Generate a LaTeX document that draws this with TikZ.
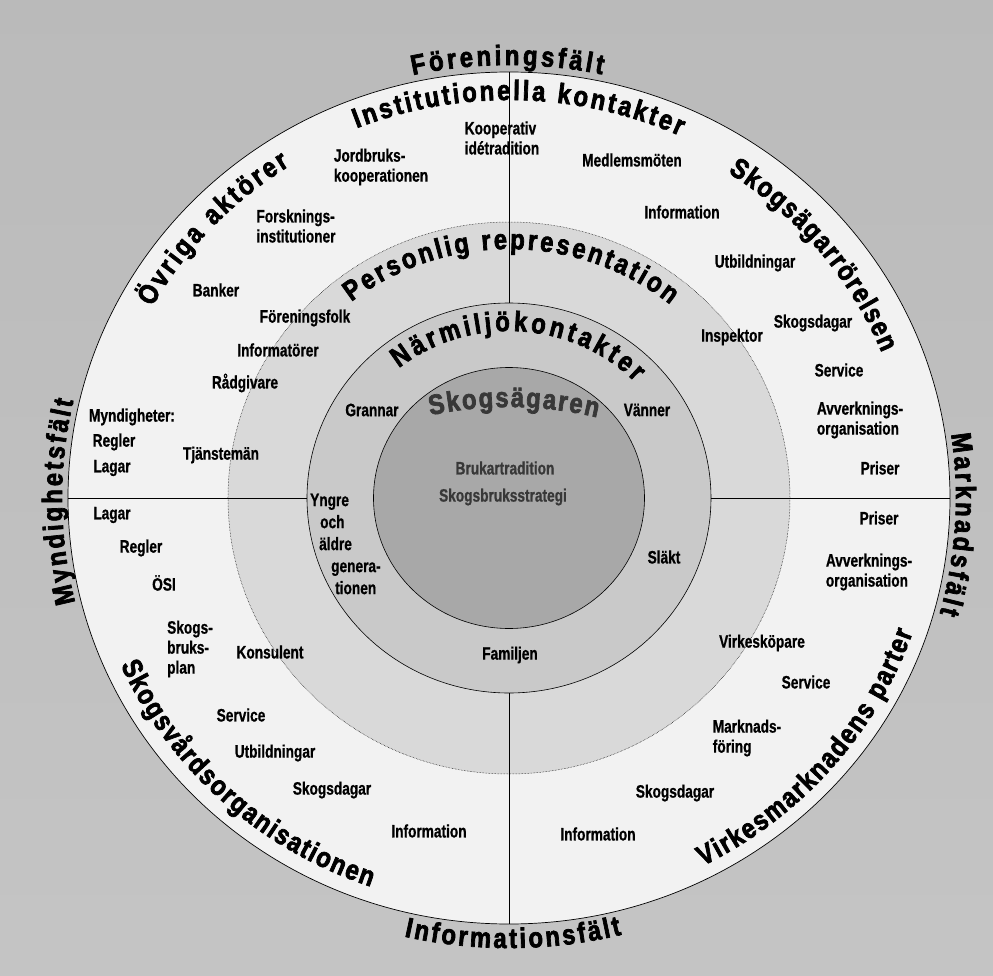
\documentclass[tikz,border=0pt]{standalone}
\usepackage{fontspec}
\usepackage{tikz}
\usetikzlibrary{decorations.text}
\usepackage{xcolor}

\newfontfamily\lblface[FakeStretch=0.76,FakeBold=0.8]{Liberation Sans}
\newfontfamily\bigface[FakeStretch=0.85,FakeBold=2.5]{Liberation Sans}
\newcommand\lblfont{\lblface\bfseries\fontsize{18}{20}\selectfont}
\newcommand\bigfont{\bigface\bfseries\fontsize{28}{32}\selectfont}

\definecolor{bgtop}{gray}{0.73}
\definecolor{bgmid}{gray}{0.87}
\definecolor{bgbot}{gray}{0.77}
\definecolor{ringout}{gray}{0.95}
\definecolor{ringpers}{gray}{0.85}
\definecolor{ringnear}{gray}{0.79}
\definecolor{ringcore}{gray}{0.66}
\definecolor{coreink}{gray}{0.22}

\begin{document}
\begin{tikzpicture}[x=1pt,y=1pt,
  lbl/.style={font=\lblfont, inner sep=0pt, align=left},
  arclabel/.style={decorate, decoration={text along path, text align={fit to path}, text={|\bigfont|#1}}}]

  % background
  \useasboundingbox (-509,-477) rectangle (484,498);
  \shade[top color=bgtop, middle color=bgmid, bottom color=bgbot] (-509,-477) rectangle (484,498);

  % rings
  \filldraw[fill=ringout, draw=black, line width=.7pt] (0,0) ellipse [x radius=441, y radius=426];
  \fill[ringpers] (0,0) ellipse [x radius=281, y radius=276];
  \draw[densely dotted, line width=.5pt] (0,0) ellipse [x radius=281, y radius=276];
  \filldraw[fill=ringnear, draw=black, line width=.6pt] (0,0) ellipse [x radius=202, y radius=195];
  \filldraw[fill=ringcore, draw=black, line width=.6pt] (0,0) ellipse [x radius=135.5, y radius=130.5];

  % dividing lines
  \draw[line width=.6pt] (0,426) -- (0,195);
  \draw[line width=.6pt] (0,-195) -- (0,-426);
  \draw[line width=.6pt] (-441,0) -- (-202,0);
  \draw[line width=.6pt] (202,0) -- (441,0);

  % fields outside the circle
  \path[arclabel={Föreningsfält}] (102.4:448 and 433) arc[start angle=102.4, end angle=78, x radius=448, y radius=433];
  \path[arclabel={Marknadsfält}] (8.5:447 and 432) arc[start angle=8.5, end angle=-15.5, x radius=447, y radius=432];
  \path[arclabel={Informationsfält}] (-103:466 and 450) arc[start angle=-103, end angle=-76, x radius=466, y radius=450];
  \path[arclabel={Myndighetsfält}] (194:447 and 432) arc[start angle=194, end angle=167, x radius=447, y radius=432];

  % actors inside the outer ring
  \path[arclabel={Institutionella kontakter}] (111.7:412 and 398) arc[start angle=111.7, end angle=65.5, x radius=412, y radius=398];
  \path[arclabel={Övriga aktörer}] (151:408 and 394) arc[start angle=151, end angle=122.5, x radius=408, y radius=394];
  \path[arclabel={Skogsägarrörelsen}] (57:402 and 388) arc[start angle=57, end angle=22, x radius=402, y radius=388];
  \path[arclabel={Skogsvårdsorganisationen}] (204:425 and 411) arc[start angle=204, end angle=251, x radius=425, y radius=411];
  \path[arclabel={Virkesmarknadens parter}] (-63:427 and 413) arc[start angle=-63, end angle=-19, x radius=427, y radius=413];

  % inner rings
  \path[arclabel={Personlig representation}] (128:256 and 249) arc[start angle=128, end angle=51, x radius=256, y radius=249];
  \path[arclabel={Närmiljökontakter}] (129:175 and 167) arc[start angle=129, end angle=44, x radius=175, y radius=167];
  \path[arclabel={Skogsägaren}, decoration={text color=coreink}] ([shift={(0,-287)}]102:378) arc[start angle=102, end angle=76.5, radius=378];

  % upper half
  \node[lbl] (kooperativ) at (-7,360) {Kooperativ\\idétradition};
  \node[lbl] (jordbruk) at (-128,331) {Jordbruks-\\kooperationen};
  \node[lbl] (medlem) at (123,338) {Medlemsmöten};
  \node[lbl] (forskning) at (-213,272) {Forsknings-\\institutioner};
  \node[lbl] (info-ne) at (173,286) {Information};
  \node[lbl] (banker) at (-293,208) {Banker};
  \node[lbl] (utb-ne) at (246,235) {Utbildningar};
  \node[lbl] (forfolk) at (-204,180) {Föreningsfolk};
  \node[lbl] (dagar-ne) at (304,175) {Skogsdagar};
  \node[lbl] (inspektor) at (223,161) {Inspektor};
  \node[lbl] (informator) at (-231,148) {Informatörer};
  \node[lbl] (service-ne) at (330,128) {Service};
  \node[lbl] (radgivare) at (-264,115) {Rådgivare};
  \node[lbl] (avverk-ne) at (351,78) {Avverknings-\\organisation};
  \node[lbl] (myndighet) at (-377,81) {Myndigheter:};
  \node[lbl] (regler-nw) at (-395,56) {Regler};
  \node[lbl] (lagar-nw) at (-397,30) {Lagar};
  \node[lbl] (tjansteman) at (-288,43) {Tjänstemän};
  \node[lbl] (priser-ne) at (371,30) {Priser};
  \node[lbl] (grannar) at (-137,88) {Grannar};
  \node[lbl] (vanner) at (138,88) {Vänner};

  % lower half
  \node[lbl] (priser-se) at (370,-20) {Priser};
  \node[lbl] (lagar-sw) at (-397,-17) {Lagar};
  \node[lbl] (regler-sw) at (-368,-50) {Regler};
  \node[lbl] (osi) at (-345,-85) {ÖSI};
  \node[lbl] (avverk-se) at (360,-74) {Avverknings-\\organisation};
  \node[lbl] (slakt) at (155,-59) {Släkt};
  \node[lbl] (bruksplan) at (-319,-151) {Skogs-\\bruks-\\plan};
  \node[lbl] (konsulent) at (-239,-154) {Konsulent};
  \node[lbl] (virkes) at (253,-145) {Virkesköpare};
  \node[lbl] (familjen) at (1,-157) {Familjen};
  \node[lbl] (service-se) at (297,-184) {Service};
  \node[lbl] (service-sw) at (-268,-217) {Service};
  \node[lbl] (marknad) at (238,-240) {Marknads-\\föring};
  \node[lbl] (utb-sw) at (-234,-255) {Utbildningar};
  \node[lbl] (dagar-sw) at (-177,-292) {Skogsdagar};
  \node[lbl] (dagar-se) at (166,-295) {Skogsdagar};
  \node[lbl] (info-sw) at (-80,-333) {Information};
  \node[lbl] (info-se) at (89,-336) {Information};
  \node[lbl, anchor=west] (generation) at (-199,-46)
    {Yngre\\[2pt]\hspace*{10pt}och\\[2pt]\hspace*{9pt}äldre\\[2pt]\hspace*{21pt}genera-\\[2pt]\hspace*{25pt}tionen};

  % core
  \node[lbl, text=coreink] (tradition) at (-4,30) {Brukartradition};
  \node[lbl, text=coreink] (strategi) at (-6,1) {Skogsbruksstrategi};
\end{tikzpicture}
\end{document}
